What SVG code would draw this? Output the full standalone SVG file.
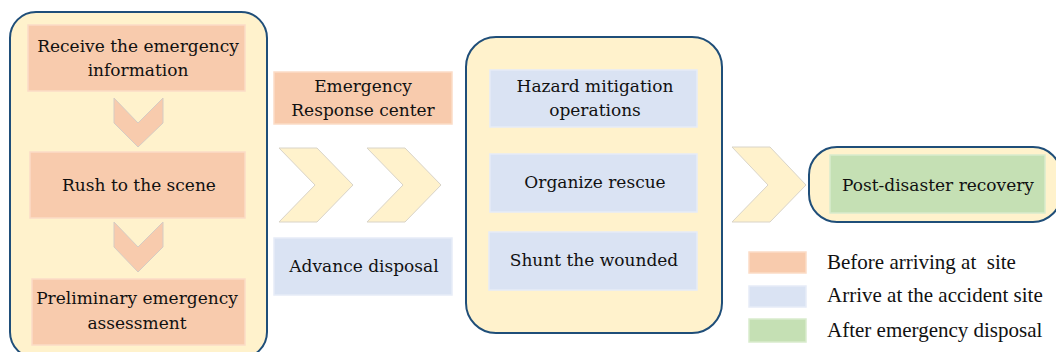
<svg xmlns="http://www.w3.org/2000/svg" width="1056" height="352" viewBox="0 0 1056 352">
  <style>
    .label { font-family: "DejaVu Serif", serif; font-size: 17px; fill: #111; text-anchor: middle; }
    .legend { font-family: "Liberation Serif", "Times New Roman", serif; font-size: 21px; fill: #111; text-anchor: start; }
    .stage { fill: #FFF2CC; stroke: #1F4E79; stroke-width: 2; }
    .before { fill: #F8CBAD; stroke: #FBDCC6; stroke-width: 1.5; }
    .arrive { fill: #DAE3F3; stroke: #E6ECF7; stroke-width: 1.5; }
    .after { fill: #C5E0B4; stroke: #D9EBCD; stroke-width: 1.5; }
    .chev { fill: #FFF2CC; stroke: #D9D4C8; stroke-width: 1; }
    .chev-down { fill: #F8CBAD; stroke: #D5CCC4; stroke-width: 1; }
  </style>

  <!-- stage 1: before arriving -->
  <g id="stage-before">
    <rect class="stage" x="10" y="12" width="257" height="346" rx="26"/>
  </g>
  <g id="receive">
    <rect class="before" x="28" y="25" width="217" height="66"/>
    <text class="label" x="138" y="52">Receive the emergency</text>
    <text class="label" x="138" y="76">information</text>
  </g>
  <g id="rush">
    <rect class="before" x="30" y="152" width="215" height="66"/>
    <text class="label" x="139" y="191">Rush to the scene</text>
  </g>
  <g id="assessment">
    <rect class="before" x="32" y="279" width="213" height="66"/>
    <text class="label" x="137" y="304">Preliminary emergency</text>
    <text class="label" x="137" y="329">assessment</text>
  </g>

  <!-- middle column -->
  <g id="response-center">
    <rect class="before" x="274" y="72" width="178" height="52"/>
    <text class="label" x="363" y="92">Emergency</text>
    <text class="label" x="363" y="116">Response center</text>
  </g>
  <g id="advance-disposal">
    <rect class="arrive" x="274" y="238" width="178" height="57"/>
    <text class="label" x="364" y="272">Advance disposal</text>
  </g>

  <!-- stage 2: at the accident site -->
  <g id="stage-site">
    <rect class="stage" x="466" y="37" width="256" height="296" rx="30"/>
  </g>
  <g id="hazard">
    <rect class="arrive" x="490" y="70" width="207" height="57"/>
    <text class="label" x="595" y="92">Hazard mitigation</text>
    <text class="label" x="595" y="116">operations</text>
  </g>
  <g id="rescue">
    <rect class="arrive" x="490" y="154" width="207" height="58"/>
    <text class="label" x="595" y="188">Organize rescue</text>
  </g>
  <g id="shunt">
    <rect class="arrive" x="489" y="232" width="208" height="58"/>
    <text class="label" x="594" y="266">Shunt the wounded</text>
  </g>

  <!-- stage 3: recovery -->
  <g id="recovery">
    <rect class="stage" x="809" y="147" width="252" height="75" rx="28"/>
    <rect class="after" x="830" y="155" width="215" height="58"/>
    <text class="label" x="938" y="191">Post-disaster recovery</text>
  </g>

  <!-- flow chevrons -->
  <g id="connectors">
    <polygon class="chev-down" points="114,98 138,123 163,98 163,123 138,147 114,123"/>
    <polygon class="chev-down" points="114,222 138,247 163,222 163,247 138,272 114,247"/>
    <polygon class="chev" points="279,148 317,148 353,185 317,222 279,222 315,185"/>
    <polygon class="chev" points="367,148 405,148 441,185 405,222 367,222 403,185"/>
    <polygon class="chev" points="732,147 770,147 806,185 770,222 732,222 768,185"/>
  </g>

  <!-- legend -->
  <g id="legend">
    <rect class="before" x="749" y="252" width="57" height="21"/>
    <text class="legend" x="827" y="269">Before arriving at&#160; site</text>
    <rect class="arrive" x="749" y="286" width="57" height="21"/>
    <text class="legend" x="827" y="302">Arrive at the accident site</text>
    <rect class="after" x="749" y="319" width="57" height="23"/>
    <text class="legend" x="827" y="337">After emergency disposal</text>
  </g>
</svg>
